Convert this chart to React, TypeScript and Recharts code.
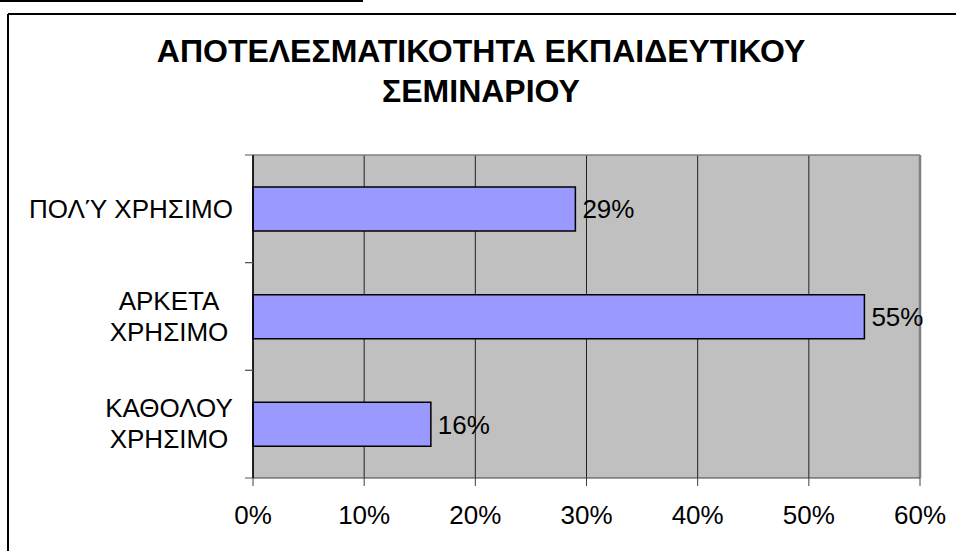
import React from "react";
import { BarChart, Bar, XAxis, YAxis, CartesianGrid, LabelList, ReferenceLine } from "recharts";

const categories = ["ΠΟΛΎ ΧΡΗΣΙΜΟ", "ΑΡΚΕΤΑ\nΧΡΗΣΙΜΟ", "ΚΑΘΟΛΟΥ\nΧΡΗΣΙΜΟ"];
const values = [29, 55, 16];
const xTicks = [0, 10, 20, 30, 40, 50, 60];
const titleLines = ["ΑΠΟΤΕΛΕΣΜΑΤΙΚΟΤΗΤΑ ΕΚΠΑΙΔΕΥΤΙΚΟΥ", "ΣΕΜΙΝΑΡΙΟΥ"];

const data = categories.map((c, i) => ({ name: c, value: values[i] }));

const FONT = "'Liberation Sans', Arial, sans-serif";

const CatTick = (props: any) => {
  const { x, y, payload } = props;
  const half = payload && payload.offset ? payload.offset : 0;
  const lines: string[] = String(payload.value).split("\n");
  const marks = (
    <g>
      <line x1={x - 8} y1={y - half} x2={x} y2={y - half} stroke="#555" strokeWidth={1} />
      <line x1={x - 8} y1={y + half} x2={x} y2={y + half} stroke="#555" strokeWidth={1} />
    </g>
  );
  if (lines.length === 1) {
    return (
      <g>
        {marks}
        <text x={x - 20} y={y + 9} textAnchor="end" fontSize={26} fontFamily={FONT} fill="#000">
          {lines[0]}
        </text>
      </g>
    );
  }
  return (
    <g>
      {marks}
      {lines.map((l, i) => (
        <text key={i} x={x - 84} y={y - 7 + i * 31} textAnchor="middle" fontSize={26} fontFamily={FONT} fill="#000">
          {l}
        </text>
      ))}
    </g>
  );
};

export default function App() {
  return (
    <div style={{ position: "absolute", left: 0, top: 0, width: 956, height: 551, background: "#fff" }}>
      <svg width={956} height={551} style={{ position: "absolute", left: 0, top: 0 }}>
        <line x1={0} y1={1} x2={363} y2={1} stroke="#000" strokeWidth={2} />
        <line x1={8} y1={14} x2={956} y2={14} stroke="#000" strokeWidth={2} />
        <line x1={8} y1={14} x2={8} y2={551} stroke="#000" strokeWidth={2} />
        {titleLines.map((t, i) => (
          <text key={i} x={481} y={62 + i * 40} textAnchor="middle" fontSize={32} fontWeight="bold" fontFamily={FONT} fill="#000">
            {t}
          </text>
        ))}
      </svg>
      <div style={{ position: "absolute", left: 0, top: 0 }}>
        <BarChart
          width={956}
          height={551}
          data={data}
          layout="vertical"
          margin={{ top: 155, right: 36, bottom: 13, left: 8 }}
          barCategoryGap={0}
        >
          <CartesianGrid fill="#C0C0C0" horizontal={false} stroke="#222" strokeWidth={1} verticalValues={xTicks} />
          <XAxis
            type="number"
            dataKey="value"
            domain={[0, 60]}
            ticks={xTicks}
            tickFormatter={(v: number) => `${v}%`}
            height={60}
            stroke="#404040"
            tickSize={8}
            tickMargin={20}
            tick={{ fill: "#000", fontSize: 26, fontFamily: FONT }}
            interval={0}
          />
          <YAxis
            type="category"
            dataKey="name"
            width={245}
            tick={<CatTick />}
            tickLine={false}
            tickSize={0}
            tickMargin={0}
            axisLine={{ stroke: "#000", strokeWidth: 1.5 }}
            interval={0}
          />
          <ReferenceLine y={categories[0]} position="start" stroke="#808080" strokeWidth={1.5} />
          <ReferenceLine x={60} stroke="#808080" strokeWidth={2.5} />
          <Bar dataKey="value" fill="#9999FF" stroke="#000" strokeWidth={1.5} barSize={44} isAnimationActive={false}>
            <LabelList
              dataKey="value"
              position="right"
              offset={7}
              formatter={(v: number) => `${v}%`}
              fontSize={26}
              fontFamily={FONT}
              fill="#000"
            />
          </Bar>
        </BarChart>
      </div>
    </div>
  );
}
